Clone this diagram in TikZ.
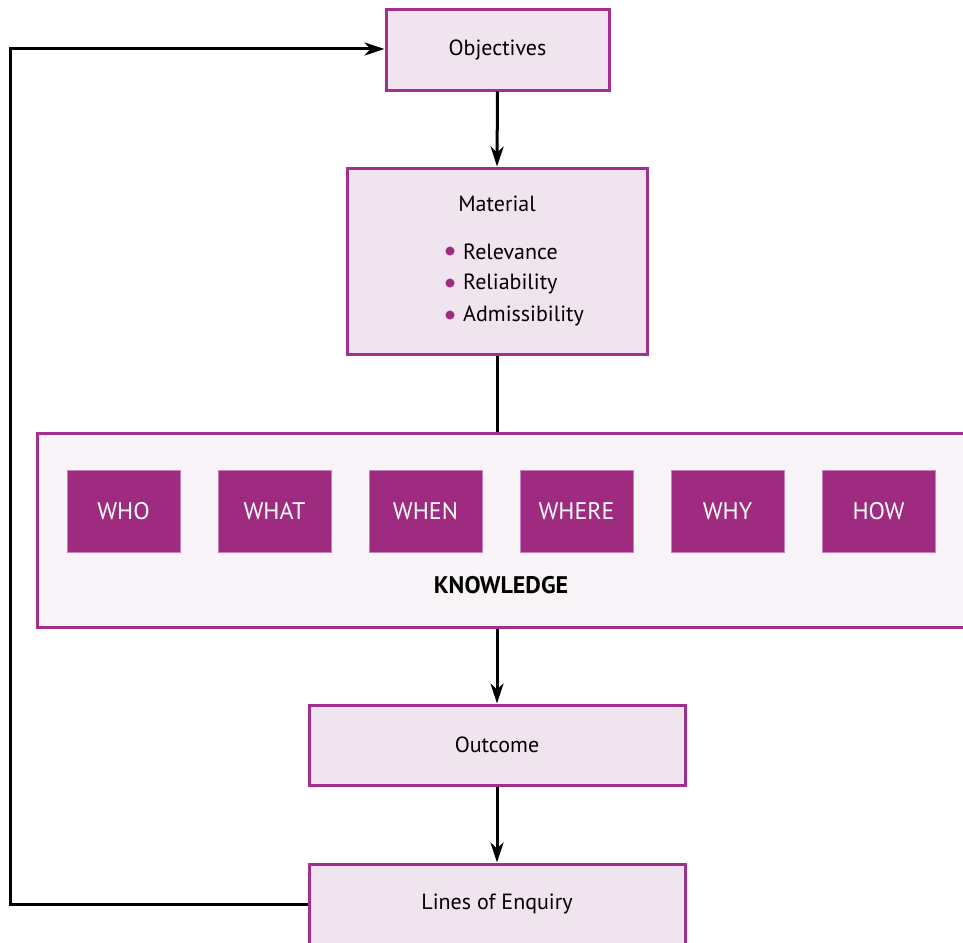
\documentclass[tikz,border=0pt]{standalone}
\usepackage{fontspec}
\setmainfont{PT Sans}
\usetikzlibrary{arrows.meta}
\definecolor{boxfill}{HTML}{F0E4EE}
\definecolor{boxline}{HTML}{A3308F}
\definecolor{darkbox}{HTML}{9E2B80}
\definecolor{knowfill}{HTML}{F9F4F8}
\tikzset{
  txt/.style={font=\fontsize{22}{26}\selectfont},
  lbox/.style={draw=boxline, line width=3pt, fill=boxfill, inner sep=0pt, txt},
  wbox/.style={fill=darkbox, draw=boxline!60, line width=0.8pt, minimum width=113pt, minimum height=82pt, text=white, font=\fontsize{24}{28}\selectfont, inner sep=0pt},
  conn/.style={line width=3pt, black},
  arr/.style={conn, -{Stealth[length=20pt, width=13pt, inset=6pt]}},
}
\begin{document}
\begin{tikzpicture}[x=1pt, y=-1pt]
\useasboundingbox (0,0) rectangle (963,942);
\clip (0,0) rectangle (963,942);
\node[lbox, minimum width=223pt, minimum height=80pt] (obj) at (497.5,50) {Objectives};
\node[lbox, minimum width=300pt, minimum height=186pt] (mat) at (497,261) {};
\node[txt] (mattitle) at (497,204) {Material};
\node[txt, anchor=west, inner sep=0pt] (b1) at (463,252) {Relevance};
\node[txt, anchor=west, inner sep=0pt] (b2) at (463,284) {Reliability};
\node[txt, anchor=west, inner sep=0pt] (b3) at (463,316) {Admissibility};
\fill[darkbox] (450,251) circle (4.5pt);
\fill[darkbox] (450,283) circle (4.5pt);
\fill[darkbox] (450,315) circle (4.5pt);
\node[draw=boxline, line width=3pt, fill=knowfill, minimum width=940pt, minimum height=194pt, inner sep=0pt] (know) at (507,530) {};
\node[font=\bfseries\fontsize{24}{28}\selectfont] (kt) at (501,585) {KNOWLEDGE};
\node[wbox] (who) at (123.5,511) {WHO};
\node[wbox] (what) at (274.5,511) {WHAT};
\node[wbox] (when) at (425.5,511) {WHEN};
\node[wbox] (where) at (576.5,511) {WHERE};
\node[wbox] (why) at (727.5,511) {WHY};
\node[wbox] (how) at (878.5,511) {HOW};
\node[lbox, minimum width=376pt, minimum height=80pt] (out) at (497,745) {Outcome};
\node[lbox, minimum width=376pt, minimum height=80pt] (lines) at (497,904) {Lines of Enquiry};
\coordinate (c1) at (10,904);
\coordinate (c2) at (10,49);
\draw[arr] (obj.south) -- (mat.north);
\draw[conn] (mat.south) -- (mat.south |- know.north);
\draw[arr] (know.south -| out.north) -- (out.north);
\draw[arr] (out.south) -- (lines.north);
\draw[arr] (lines.west) -- (c1) -- (c2) -- (obj.west |- c2);
\end{tikzpicture}
\end{document}
